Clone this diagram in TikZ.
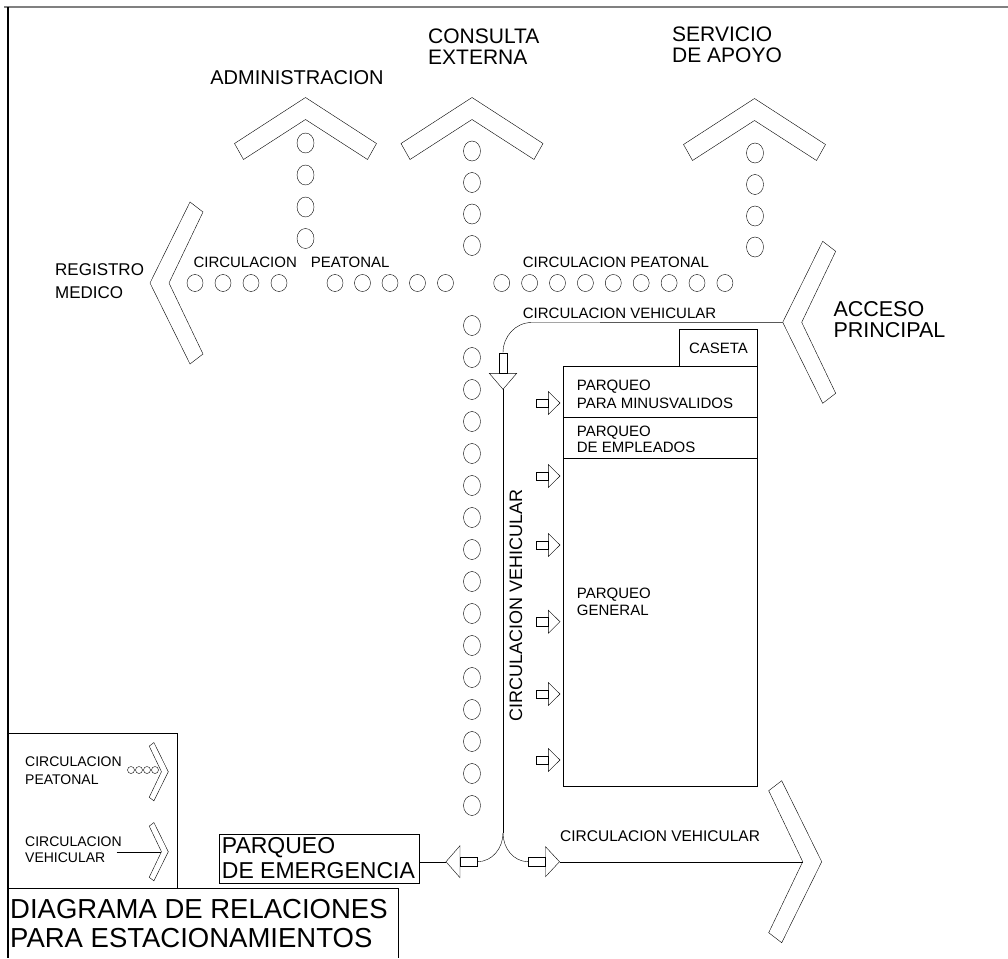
\documentclass[tikz,border=0pt]{standalone}
\usepackage{fontspec}
\setmainfont{Liberation Sans}
\usetikzlibrary{positioning}

\tikzset{
    % outline chevrons
    pics/chevup/.style={code={
        \coordinate (-tip) at (0,0);
        \draw[thin] (0,0) -- (-71,46) -- (-62,62) -- (0,22) -- (62,62) -- (71,46) -- cycle;}},
    pics/chevside/.style={code={
        \coordinate (-tip) at (0,0);
        \coordinate (-in) at (19,0);
        \draw[thin] (0,0) -- (40,-81) -- (53,-71) -- (19,0) -- (53,71) -- (40,81) -- cycle;}},
    % block arrow: head depth, head half, shaft length, shaft half
    pics/blk/.style n args={4}{code={
        \draw[thin] (0,0) -- (-#1,-#2) -- (-#1,#2) -- cycle;
        \draw[thin] (-#1,-#4) rectangle (-#1-#3,#4);}},
}

\begin{document}
\begin{tikzpicture}[
    x=1pt, y=-1pt,
    lbl/.style={inner sep=0pt, anchor=north west, align=left},
    parea/.style={draw, thin, anchor=north west, inner sep=0pt},
    ped/.style={thin},
    veh/.style={thin},
]
    \useasboundingbox (0,0) rectangle (1008,958);

    % sheet frame
    \draw[gray, line width=2pt] (4,7) -- (1008,7);
    \draw[line width=1.5pt] (8,7) -- (8,958);

    % buildings
    \pic (adm) at (305.5,97.5) {chevup};
    \pic (con) at (472,97.5) {chevup};
    \pic (ser) at (754.5,98.5) {chevup};
    \pic (reg) at (150,283) {chevside};
    \pic (acc) at (782.7,322.3) {chevside};
    \pic[xscale=-1] (sal) at (821.7,861.7) {chevside};

    \node[lbl, anchor=north, font=\fontsize{20}{19}\selectfont] (admtxt) at (297,70) {ADMINISTRACION};
    \node[lbl, font=\fontsize{21}{20.5}\selectfont] (contxt) at (428,29) {CONSULTA\\EXTERNA};
    \node[lbl, font=\fontsize{21}{20.5}\selectfont] (sertxt) at (672,27) {SERVICIO\\DE APOYO};
    \node[lbl, font=\fontsize{17}{23.3}\selectfont] (regtxt) at (55,263.3) {REGISTRO\\MEDICO};
    \node[lbl, font=\fontsize{21.5}{21.5}\selectfont] (acctxt) at (833.3,301) {ACCESO\\PRINCIPAL};

    % pedestrian circulation
    \foreach \y in {143,175,207,238.5}
        \draw[ped] (305.5,\y) ellipse [x radius=8.5pt, y radius=10pt];
    \foreach \y in {151,182.5,214,245.5}
        \draw[ped] (472,\y) ellipse [x radius=8.5pt, y radius=10pt];
    \foreach \y in {153,184.5,216,247}
        \draw[ped] (755,\y) ellipse [x radius=8.5pt, y radius=10pt];
    \foreach \x in {195,223,251,279,335,362.5,390,417.5,445.5}
        \draw[ped] (\x,283) ellipse [x radius=8pt, y radius=8.5pt];
    \foreach \k in {0,...,8}
        \draw[ped] (501.7+27.9*\k,283) ellipse [x radius=8pt, y radius=8.5pt];
    \foreach \k in {0,...,15}
        \draw[ped] (472,325.5+32*\k) ellipse [x radius=8.5pt, y radius=10pt];

    \node[lbl, font=\fontsize{15}{17}\selectfont] (pl) at (193.3,256.7) {CIRCULACION\hspace{14pt}PEATONAL};
    \node[lbl, font=\fontsize{15}{17}\selectfont] (pr) at (522.7,256.7) {CIRCULACION PEATONAL};

    % parking areas
    \node[parea, minimum width=78pt, minimum height=36.7pt, font=\fontsize{15}{17}\selectfont] (caseta) at (679.3,329.3) {CASETA};
    \node[parea, minimum width=194.6pt, minimum height=50.7pt] (minus) at (562.7,366) {};
    \node[parea, minimum width=194.6pt, minimum height=41.6pt] (emple) at (562.7,416.7) {};
    \node[parea, minimum width=194.6pt, minimum height=327.7pt] (general) at (562.7,458.3) {};
    \node[lbl, font=\fontsize{15}{17.4}\selectfont] (minustxt) at (576.7,380) {PARQUEO\\PARA MINUSVALIDOS};
    \node[lbl, font=\fontsize{15}{16}\selectfont] (empletxt) at (576.7,426) {PARQUEO\\DE EMPLEADOS};
    \node[lbl, font=\fontsize{15}{16.7}\selectfont] (gentxt) at (576.7,588.3) {PARQUEO\\GENERAL};
    \foreach \y in {403,476,545,621.7,694,760}
        \pic at (560,\y) {blk={11.7}{11.5}{12.3}{4.2}};

    \node[draw, thin, anchor=north west, minimum width=200pt, minimum height=49pt, inner sep=0pt] (emerg) at (219,834.3) {};
    \node[lbl, font=\fontsize{23}{25}\selectfont] (emergtxt) at (221.7,837) {PARQUEO\\DE EMERGENCIA};

    % vehicular circulation
    \coordinate (curve) at (531.7,322.5);
    \coordinate (dshaft) at (503,352.7);
    \coordinate (dtip) at (503,389.3);
    \coordinate (split) at (503,833);
    \coordinate (lshaft) at (477.3,861.7);
    \coordinate (rshaft) at (528.3,861.7);
    \coordinate (ltip) at (446,861.7);
    \coordinate (rtip) at (559.5,861.7);
    \draw[veh] (acc-tip) -- (curve) to[out=180,in=90] (dshaft);
    \pic[rotate=-90] at (dtip) {blk={16}{13.7}{20.6}{4.2}};
    \draw[veh] (dtip) -- (split);
    \draw[veh] (split) to[out=-90,in=0] (lshaft);
    \draw[veh] (split) to[out=-90,in=180] (rshaft);
    \pic[rotate=180] at (ltip) {blk={14}{16}{17}{4.5}};
    \pic at (rtip) {blk={14}{15}{17.7}{4.5}};
    \draw[veh] (ltip) -- (ltip -| emerg.east);
    \draw[veh] (rtip) -- (sal-in);

    \node[lbl, font=\fontsize{15}{17}\selectfont] (vtop) at (522.7,307.7) {CIRCULACION VEHICULAR};
    \node[inner sep=0pt, rotate=90, font=\fontsize{18}{20}\selectfont] (vmid) at (516,605) {CIRCULACION VEHICULAR};
    \node[lbl, font=\fontsize{15.5}{17}\selectfont] (vbot) at (560,830) {CIRCULACION VEHICULAR};

    % legend
    \node[draw, thin, anchor=north west, minimum width=169pt, minimum height=155pt, inner sep=0pt] (legend) at (8,733) {};
    \node[lbl, font=\fontsize{14}{18}\selectfont] (legp) at (25,757) {CIRCULACION\\PEATONAL};
    \node[lbl, font=\fontsize{14}{15.7}\selectfont] (legv) at (25,837) {CIRCULACION\\VEHICULAR};
    \foreach \x in {131,139,147,155}
        \draw[ped] (\x,770) circle [radius=3.5pt];
    \pic[xscale=-0.36, yscale=0.36] (lgp) at (168.3,771.7) {chevside};
    \pic[xscale=-0.36, yscale=0.36] (lgv) at (168.3,851.7) {chevside};
    \coordinate (legvstart) at (116.7,851.7);
    \draw[veh] (legvstart) -- (lgv-in);

    % title block
    \draw[thin] (8,888.5) -- (398,888.5) -- (398,958);
    \node[lbl, font=\fontsize{27.5}{28.7}\selectfont] (title) at (10,899) {DIAGRAMA DE RELACIONES\\PARA ESTACIONAMIENTOS};
\end{tikzpicture}
\end{document}
